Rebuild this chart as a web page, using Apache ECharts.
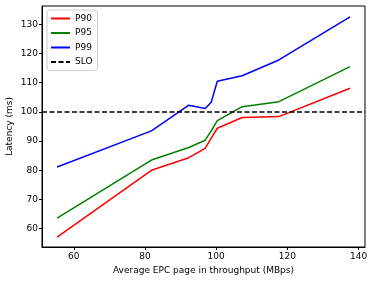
<!DOCTYPE html>
<html>
<head>
<meta charset="utf-8">
<script src="https://cdn.jsdelivr.net/npm/echarts@6/dist/echarts.min.js"></script>
<style>html,body{margin:0;padding:0;background:#fff}#c{width:374px;height:281px}</style>
</head>
<body>
<div id="c"></div>
<script>
const throughput = [55.3, 81.8, 92.3, 96.9, 98.6, 100.3, 107.3, 117.6, 137.6];
const p90 = [57.1, 80.0, 84.3, 87.5, 91.0, 94.4, 98.1, 98.4, 108.1];
const p95 = [63.6, 83.5, 87.8, 90.3, 93.5, 97.0, 101.8, 103.5, 115.5];
const p99 = [81.1, 93.5, 102.3, 101.2, 103.3, 110.5, 112.4, 117.8, 132.6];
const sloValue = 100;
const xTicks = [60, 80, 100, 120, 140];
const yTicks = [60, 70, 80, 90, 100, 110, 120, 130];
const xRange = [51.06, 141.8];
const yRange = [53.7, 136.3];

const font = 'DejaVu Sans';
const fs = 9;
const pair = (xs, ys) => xs.map((x, i) => [x, ys[i]]);
const mk = (name, color, data, dash) => ({
  name, type: 'line', data, symbol: 'none', animation: false,
  lineStyle: { color, width: 1.5, type: dash || 'solid' },
  itemStyle: { color }
});

const chart = echarts.init(document.getElementById('c'));
chart.setOption({
  animation: false,
  grid: { left: 42, right: 9, top: 6, bottom: 34, outerBoundsMode: 'none', containLabel: false, show: true, borderColor: '#000', borderWidth: 1, backgroundColor: 'transparent' },
  legend: {
    orient: 'vertical', left: 47, top: 10,
    itemWidth: 19, itemHeight: 8, itemGap: 5.5,
    padding: [4, 5, 4, 3],
    itemStyle: { opacity: 0 },
    backgroundColor: 'rgba(255,255,255,0.8)', borderColor: '#ccc', borderWidth: 1, borderRadius: 3,
    textStyle: { fontFamily: font, fontSize: fs, color: '#000' },
    data: ['P90', 'P95', 'P99', 'SLO']
  },
  xAxis: {
    type: 'value', min: xRange[0], max: xRange[1],
    name: 'Average EPC page in throughput (MBps)', nameLocation: 'middle', nameGap: 19,
    nameMoveOverlap: false,
    nameTextStyle: { fontFamily: font, fontSize: fs, color: '#000' },
    axisLine: { show: true, lineStyle: { color: '#000', width: 1 } },
    axisTick: { show: true, length: 3, customValues: xTicks, lineStyle: { color: '#000' } },
    axisLabel: { customValues: xTicks, fontFamily: font, fontSize: fs, color: '#000', margin: 5 },
    splitLine: { show: false }
  },
  yAxis: {
    type: 'value', min: yRange[0], max: yRange[1],
    name: 'Latency (ms)', nameLocation: 'middle', nameGap: 28,
    nameMoveOverlap: false,
    nameTextStyle: { fontFamily: font, fontSize: fs, color: '#000' },
    axisLine: { show: true, lineStyle: { color: '#000', width: 1 } },
    axisTick: { show: true, length: 3, customValues: yTicks, lineStyle: { color: '#000' } },
    axisLabel: { customValues: yTicks, fontFamily: font, fontSize: fs, color: '#000', margin: 4 },
    splitLine: { show: false }
  },
  series: [
    mk('P90', '#ff0000', pair(throughput, p90)),
    mk('P95', '#008000', pair(throughput, p95)),
    mk('P99', '#0000ff', pair(throughput, p99)),
    mk('SLO', '#000000', [[xRange[0], sloValue], [xRange[1], sloValue]], [5, 2.5])
  ]
});
</script>
</body>
</html>
